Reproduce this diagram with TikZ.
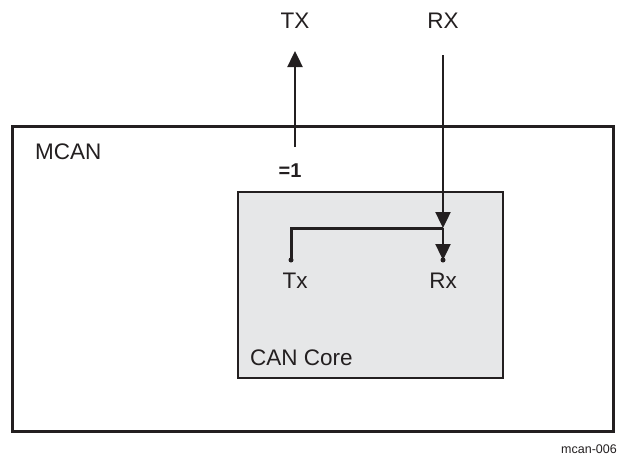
\documentclass[tikz,border=0pt]{standalone}
\usepackage{fontspec}
\setmainfont{Liberation Sans}
\usetikzlibrary{arrows.meta}
\definecolor{ink}{HTML}{231F20}
\definecolor{corefill}{HTML}{E6E7E8}
\begin{document}
\begin{tikzpicture}[x=1pt,y=-1pt,
  lbl/.style={inner sep=0pt,font=\fontsize{22.5}{26}\selectfont,text=ink},
  sig/.style={draw=ink,line width=2.4pt,-{Triangle[width=15pt,length=16pt]}},
  wire/.style={draw=ink,line width=3pt},
  pin/.style={circle,fill=ink,inner sep=0pt,minimum size=5pt}]
\useasboundingbox (0,0) rectangle (618,455);
% MCAN box
\draw[ink,line width=3pt] (12,126) rectangle (613,431);
\node[lbl,anchor=west] (mcan) at (35,152) {MCAN};
% CAN Core box
\draw[ink,fill=corefill,line width=1.8pt] (238,192) rectangle (503,378);
\node[lbl,anchor=west] (core) at (250,358) {CAN Core};
% external labels
\node[lbl] (TX) at (295,21) {TX};
\node[lbl] (RX) at (443,21) {RX};
\node[lbl,font=\bfseries\fontsize{20}{24}\selectfont] (eq) at (290,171) {=1};
% pins
\node[pin] (txpin) at (291,260) {};
\node[pin] (rxpin) at (443,260) {};
\node[lbl,anchor=north] (txl) at (295,273) {Tx};
\node[lbl,anchor=north] (rxl) at (443,273) {Rx};
\coordinate (junc) at (443,228);
\coordinate (txfrom) at (295,147);
\coordinate (txto) at (295,51);
\coordinate (rxfrom) at (443,55);
% connectors
\draw[sig] (txfrom) -- (txto);
\draw[sig] (rxfrom) -- (junc);
\draw[wire] (junc) -| (txpin.center);
\draw[sig] (junc) -- (rxpin.center);
\node[inner sep=0pt,anchor=east,font=\fontsize{12.5}{14}\selectfont,text=ink] (id) at (617,449) {mcan-006};
\end{tikzpicture}
\end{document}
